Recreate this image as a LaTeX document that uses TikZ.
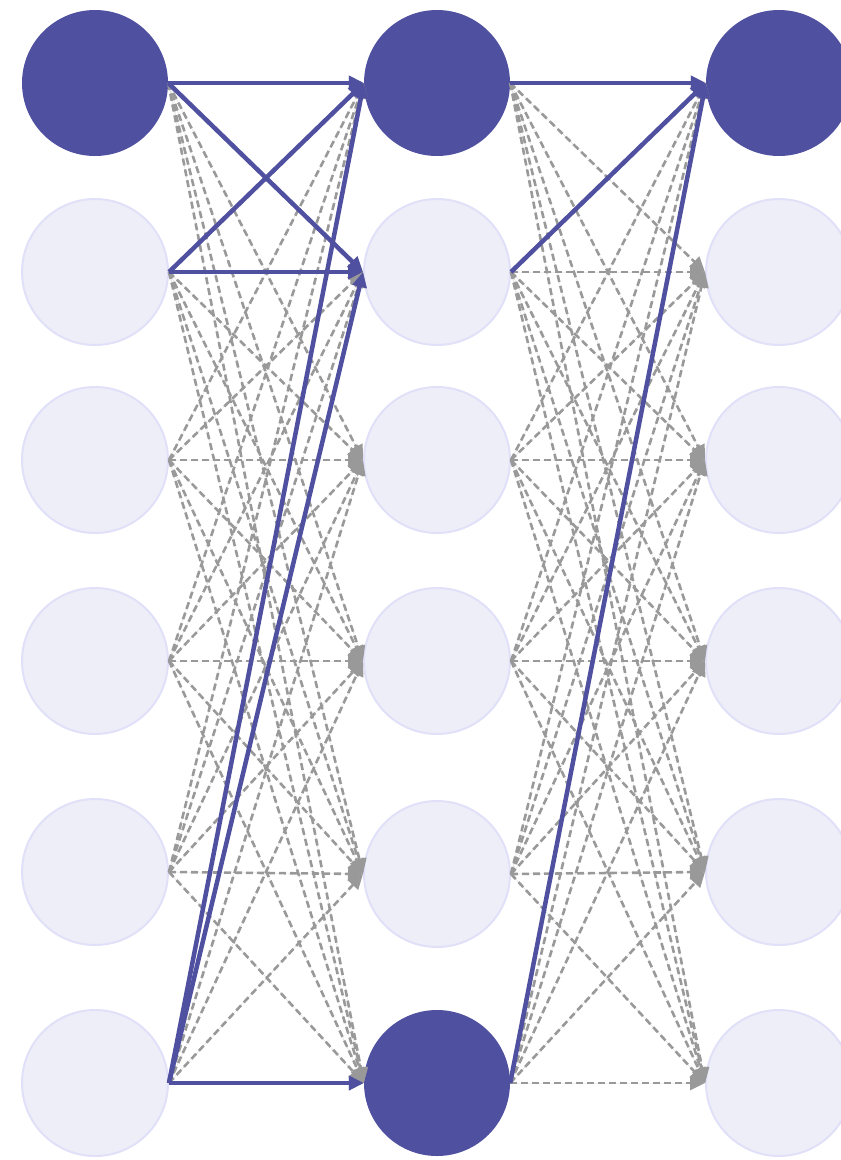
\documentclass[tikz,border=0pt]{standalone}
\usetikzlibrary{arrows.meta}
\definecolor{hot}{HTML}{5050A0}
\definecolor{coldfill}{HTML}{EEEEF9}
\definecolor{coldline}{HTML}{E0E0F8}
\definecolor{edgegray}{HTML}{999999}
\tikzset{
  neuron/.style={circle, minimum size=146pt, inner sep=0pt},
  hotn/.style={neuron, fill=hot},
  coldn/.style={neuron, fill=coldfill, draw=coldline, line width=2pt},
  grayedge/.style={draw=edgegray, line width=2.6pt, dash pattern=on 7pt off 4pt, -{Triangle[length=15pt,width=14pt]}, fill=edgegray},
  hotedge/.style={draw=hot, line width=4.5pt, -{Triangle[length=15pt,width=14pt]}},
}
\begin{document}
\begin{tikzpicture}[x=1pt,y=-1pt]
\useasboundingbox (0,0) rectangle (841,1160);
% left column
\node[hotn]  (a1) at (95,83) {};
\node[coldn] (a2) at (95,272) {};
\node[coldn] (a3) at (95,460) {};
\node[coldn] (a4) at (95,661) {};
\node[coldn] (a5) at (95,872) {};
\node[coldn] (a6) at (95,1083) {};
% middle column
\node[hotn]  (b1) at (437,83) {};
\node[coldn] (b2) at (437,272) {};
\node[coldn] (b3) at (437,460) {};
\node[coldn] (b4) at (437,661) {};
\node[coldn] (b5) at (437,874) {};
\node[hotn]  (b6) at (437,1083) {};
% right column
\node[hotn]  (c1) at (779,83) {};
\node[coldn] (c2) at (779,272) {};
\node[coldn] (c3) at (779,460) {};
\node[coldn] (c4) at (779,661) {};
\node[coldn] (c5) at (779,872) {};
\node[coldn] (c6) at (779,1083) {};
% gray dashed edges
\foreach \i in {1,...,6}{
  \foreach \j in {1,...,6}{
    \draw[grayedge] (a\i.east) -- (b\j.west);
    \draw[grayedge] (b\i.east) -- (c\j.west);
  }
}
% highlighted edges
\draw[hotedge] (a1.east) -- (b1.west);
\draw[hotedge] (a1.east) -- (b2.west);
\draw[hotedge] (a2.east) -- (b1.west);
\draw[hotedge] (a2.east) -- (b2.west);
\draw[hotedge] (a6.east) -- (b1.west);
\draw[hotedge] (a6.east) -- (b2.west);
\draw[hotedge] (a6.east) -- (b6.west);
\draw[hotedge] (b1.east) -- (c1.west);
\draw[hotedge] (b2.east) -- (c1.west);
\draw[hotedge] (b6.east) -- (c1.west);
\end{tikzpicture}
\end{document}
